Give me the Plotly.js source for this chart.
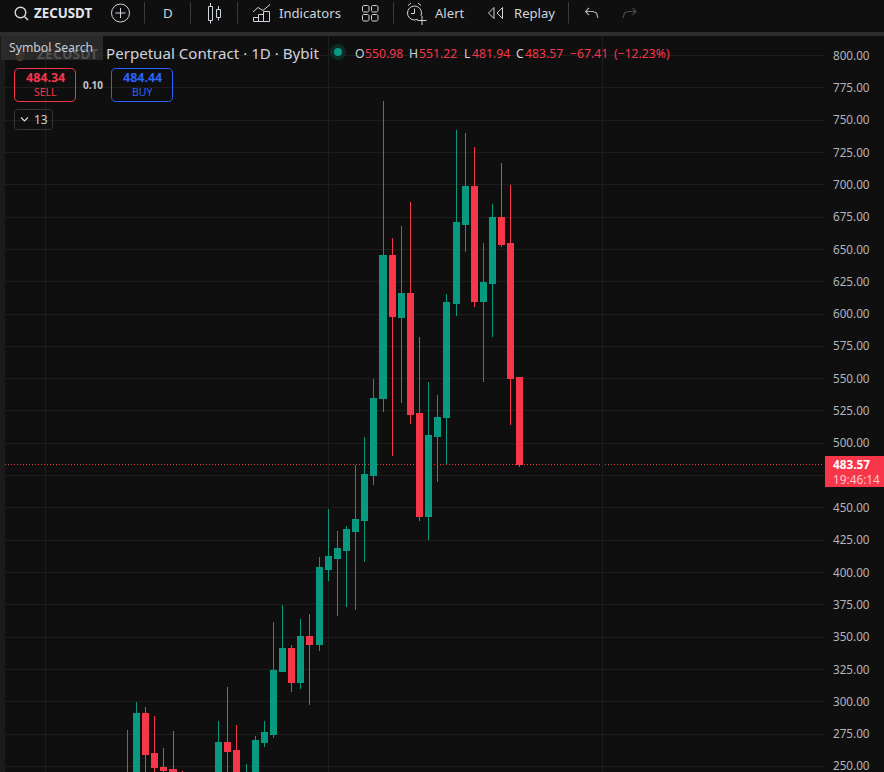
<!DOCTYPE html>
<html><head><meta charset="utf-8">
<script src="https://cdn.plot.ly/plotly-3.0.1.min.js"></script>
<style>html,body{margin:0;padding:0;background:#0f0f0f;overflow:hidden}#c{width:884px;height:772px}#c path.box{shape-rendering:crispEdges}</style>
</head><body><div id="c"></div>
<script>
const dates=["2025-10-10","2025-10-11","2025-10-12","2025-10-13","2025-10-14","2025-10-15","2025-10-16","2025-10-17","2025-10-18","2025-10-19","2025-10-20","2025-10-21","2025-10-22","2025-10-23","2025-10-24","2025-10-25","2025-10-26","2025-10-27","2025-10-28","2025-10-29","2025-10-30","2025-10-31","2025-11-01","2025-11-02","2025-11-03","2025-11-04","2025-11-05","2025-11-06","2025-11-07","2025-11-08","2025-11-09","2025-11-10","2025-11-11","2025-11-12","2025-11-13","2025-11-14","2025-11-15","2025-11-16","2025-11-17","2025-11-18","2025-11-19","2025-11-20","2025-11-21","2025-11-22"];
const opens=[235,240,291.2,260.3,249.4,247.9,240,236,234,233,238,268.8,262.6,232,243,268.8,275,323.7,341.5,315.2,350.8,343.9,402.7,411.2,417.4,432.1,440.6,475.4,534.3,645.7,597.7,616.3,522.7,443,505.6,519.6,607.8,669.7,699.1,610.1,624,674.4,655,550.98];
const highs=[278.1,299.8,295.9,288.9,264.1,277.3,246.4,240,239,238,285,311.4,282,251.8,273.4,285,361.7,374.8,343.9,364,367.9,412,449.1,432.1,436,483.2,504.9,549.8,764.9,658.9,668.2,686.8,582.3,547.4,537.4,615.5,742.5,740.2,729.3,655,685.2,716.9,699.9,551.22];
const lows=[228,230,235,235,235,230,230,228,228,229,232,235,232,228,238,264.9,271.9,323,307.5,309.8,297.4,339.2,393.4,366.3,373.3,371,408.1,467.7,524.2,490.2,531.2,514.9,439.8,425.1,470,484,598.5,648.1,605.5,547.4,582.3,651.9,514.2,481.94];
const closes=[240,291.2,259.5,248.7,247.1,240,235,234,236,238,268.8,261.8,238,243,269.6,275.8,324.5,341.5,315.2,350.8,343.9,403.5,412,418.2,432.9,441.4,476.2,535,645.7,598.5,616.3,521.9,443,506.4,520.3,608.6,670.5,699.1,610.1,624.8,674.4,654.2,550.5,483.57];
const priceTicks=[800,775,750,725,700,675,650,625,600,575,550,525,500,475,450,425,400,375,350,325,300,275,250];
const priceLabels=["800.00","775.00","750.00","725.00","700.00","675.00","650.00","625.00","600.00","575.00","550.00","525.00","500.00","","450.00","425.00","400.00","375.00","350.00","325.00","300.00","275.00","250.00"];
const monthTicks=["2025-10-01","2025-11-01","2025-12-01"];
const lastClose=483.57;

const GREEN='#089981',RED='#f7364a',BLUE='#2962ff',TXT='#d1d4dc',GRID='#1e1e1e';
const FONT='"Noto Sans", sans-serif';
const L=5,R=824,T=36,B=772;
const X=p=>(p-L)/(R-L), Y=p=>1-(p-T)/(B-T);
const shapes=[],notes=[];
const rect=(x0,y0,x1,y1,fill,line,w)=>shapes.push({type:'rect',xref:'paper',yref:'paper',x0:X(x0),x1:X(x1),y0:Y(y0),y1:Y(y1),fillcolor:fill||'rgba(0,0,0,0)',line:{color:line||'rgba(0,0,0,0)',width:line?(w||1):0},layer:'above'});
const circ=(cx,cy,r,fill,line,w)=>shapes.push({type:'circle',xref:'paper',yref:'paper',x0:X(cx-r),x1:X(cx+r),y0:Y(cy+r),y1:Y(cy-r),fillcolor:fill||'rgba(0,0,0,0)',line:{color:line||'rgba(0,0,0,0)',width:line?(w||1):0},layer:'above'});
const round=(x0,y0,x1,y1,r,line,fill)=>{
  const k=r*.45;
  const s=`M${X(x0+r)},${Y(y0)} L${X(x1-r)},${Y(y0)} C${X(x1-k)},${Y(y0)} ${X(x1)},${Y(y0+k)} ${X(x1)},${Y(y0+r)} L${X(x1)},${Y(y1-r)} C${X(x1)},${Y(y1-k)} ${X(x1-k)},${Y(y1)} ${X(x1-r)},${Y(y1)} L${X(x0+r)},${Y(y1)} C${X(x0+k)},${Y(y1)} ${X(x0)},${Y(y1-k)} ${X(x0)},${Y(y1-r)} L${X(x0)},${Y(y0+r)} C${X(x0)},${Y(y0+k)} ${X(x0+k)},${Y(y0)} ${X(x0+r)},${Y(y0)} Z`;
  shapes.push({type:'path',xref:'paper',yref:'paper',path:s,line:{color:line,width:1},fillcolor:fill||'rgba(0,0,0,0)',layer:'above'});
};
const seg=(pts,c,w,close)=>shapes.push({type:'path',xref:'paper',yref:'paper',path:pts.map((p,i)=>(i?'L':'M')+X(p[0])+','+Y(p[1])).join(' ')+(close?' Z':''),line:{color:c,width:w||1.2},fillcolor:'rgba(0,0,0,0)',layer:'above'});
const txt=(text,x,y,size,color,anchor,bold)=>notes.push({text:bold?'<b>'+text+'</b>':text,xref:'paper',yref:'paper',x:X((anchor&&anchor!=='left')?x:x-1),y:Y(y),xanchor:anchor||'left',yanchor:'middle',showarrow:false,align:anchor||'left',font:{family:FONT,size,color},borderpad:0});

// frame
rect(0,32,884,36,'#2e2e2e');
rect(0,36,5,772,'#1b1b1b');

// chart legend (dim symbol under tooltip)
circ(20,56,5,'#6b4a14');
txt('ZECUSDT',37,53,14,'#4f5052','left',true);
rect(1,36,103,60,'rgba(48,48,48,0.82)');
txt('Symbol Search',9,47.5,12.2,'#c9cbd1');
txt('Perpetual Contract · 1D · Bybit',106,53,15.1,TXT);
circ(338,52,8,'#0c2a26');
circ(338,52,4,GREEN);
[['O',355,TXT],['550.98',364.5,RED],['H',409,TXT],['551.22',419,RED],['L',464,TXT],['481.94',472,RED],['C',516,TXT],['483.57',525,RED],['−67.41',570,RED],['(−12.23%)',614,RED]].forEach(a=>txt(a[0],a[1],53,12.2,a[2]));

// order buttons
round(14.5,68.5,75.5,101.5,4,RED);
txt('484.34',45,78,12.5,RED,'center',true);
txt('SELL',45,92,10.5,RED,'center');
txt('0.10',93,85,10,'#c3c5cb','center',true);
round(111.5,68.5,172.5,101.5,4,BLUE);
txt('484.44',142,78,12.5,BLUE,'center',true);
txt('BUY',142,92,10.5,BLUE,'center');
round(14.5,109.5,52.5,129.5,3,'#363636');
seg([[21,117.5],[24.5,121],[28,117.5]],TXT,1.2);
txt('13',41,119.5,12,TXT,'center');

// toolbar
circ(20.5,12.5,5.3,null,'#d8dae0',1.4);
seg([[24.5,16.5],[28,20]],'#d8dae0',1.5);
txt('ZECUSDT',34,13.5,13.3,'#e3e5ea','left',true);
circ(120.5,13,9,null,'#d1d4dc',1);
seg([[115.5,13],[125.5,13]],TXT,1);seg([[120.5,8],[120.5,18]],TXT,1);
[144.5,190.5,237.5,393.5,568.5].forEach(x=>seg([[x,2],[x,23.5]],'#3a3a3a',1));
txt('D',167.5,13.5,13.3,TXT,'center');
rect(208.5,6.5,212.5,20.5,null,TXT,1);seg([[210.5,3],[210.5,6.5]],TXT,1);seg([[210.5,20.5],[210.5,23.5]],TXT,1);
rect(216.5,9.5,220.5,17.5,null,TXT,1);seg([[218.5,6],[218.5,9.5]],TXT,1);seg([[218.5,17.5],[218.5,20.5]],TXT,1);
seg([[253,12],[258,7.5],[263,10.5],[270,4.5]],TXT,1);
rect(253.5,17.5,258.5,21.5,null,TXT,1);rect(258.5,14.5,263.5,21.5,null,TXT,1);rect(263.5,11.5,269.5,21.5,null,TXT,1);
txt('Indicators',279,13.5,13.1,TXT);
[[362.5,5.5],[371.5,5.5],[362.5,14.5],[371.5,14.5]].forEach(a=>round(a[0],a[1],a[0]+6.5,a[1]+6.5,1.5,TXT));
circ(414.5,13,7,null,TXT,1);
seg([[414.5,8.5],[414.5,13.5],[411,13.5]],TXT,1);
seg([[408,5.5],[411,3]],TXT,1);seg([[418,3],[421,5.5]],TXT,1);
rect(418,16,426,24,'#0f0f0f');
seg([[417.5,20.5],[426.5,20.5]],TXT,1);seg([[422,16],[422,25]],TXT,1);
txt('Alert',435,13.5,13.1,TXT);
seg([[494,7.5],[488.5,13],[494,18.5]],TXT,1,true);
seg([[502.5,7.5],[497,13],[502.5,18.5]],TXT,1,true);
txt('Replay',513.5,13.5,13.1,TXT);
seg([[589,8],[585.5,11.5],[589,15]],'#a9abb1',1.1);
seg([[585.5,11.5],[593,11.5],[596.5,13],[598,18]],'#a9abb1',1.1);
seg([[632.5,8],[636,11.5],[632.5,15]],'#4a4a4a',1.1);
seg([[636,11.5],[628,11.5],[624.5,13],[623,18]],'#4a4a4a',1.1);

// last price marker
rect(825,456,884,487,RED);
notes.push({text:'<b><span style="color:#ffffff">483.57</span></b><br><span style="color:#ffc4ca">19:46:14</span>',xref:'paper',yref:'paper',x:X(832),y:Y(471.5),xanchor:'left',yanchor:'middle',showarrow:false,align:'left',font:{family:FONT,size:11.8,color:'#ffffff'},borderpad:0});

const priceLine={type:'line',xref:'paper',yref:'y',x0:0,x1:1,y0:lastClose,y1:lastClose,layer:'below',line:{color:RED,width:1,dash:'1px,2px'}};

Plotly.newPlot('c',[{
  type:'candlestick',x:dates,open:opens,high:highs,low:lows,close:closes,
  whiskerwidth:0,
  increasing:{line:{color:GREEN,width:1},fillcolor:GREEN},
  decreasing:{line:{color:RED,width:1},fillcolor:RED},
  hoverinfo:'skip'
}],{
  width:884,height:772,
  margin:{l:L,r:884-R,t:T,b:0,pad:0},
  paper_bgcolor:'#0f0f0f',plot_bgcolor:'#0f0f0f',
  showlegend:false,dragmode:false,
  boxgap:0.34,boxgroupgap:0,
  font:{family:FONT},
  xaxis:{type:'date',range:['2025-09-26 14:24','2025-12-25 07:12'],tickmode:'array',tickvals:monthTicks,ticktext:['','',''],showticklabels:false,ticks:'',showgrid:true,gridcolor:GRID,gridwidth:1,zeroline:false,showline:false,rangeslider:{visible:false},fixedrange:true},
  yaxis:{range:[245.6,815.2],side:'right',tickmode:'array',tickvals:priceTicks,ticktext:priceLabels,ticks:'',ticklabelstandoff:8,ticklabeloverflow:'allow',tickfont:{family:FONT,size:11.7,color:'#b2b5be'},showgrid:true,gridcolor:GRID,gridwidth:1,zeroline:false,showline:false,fixedrange:true},
  shapes:[priceLine].concat(shapes),
  annotations:notes
},{displayModeBar:false,staticPlot:true});
</script></body></html>
